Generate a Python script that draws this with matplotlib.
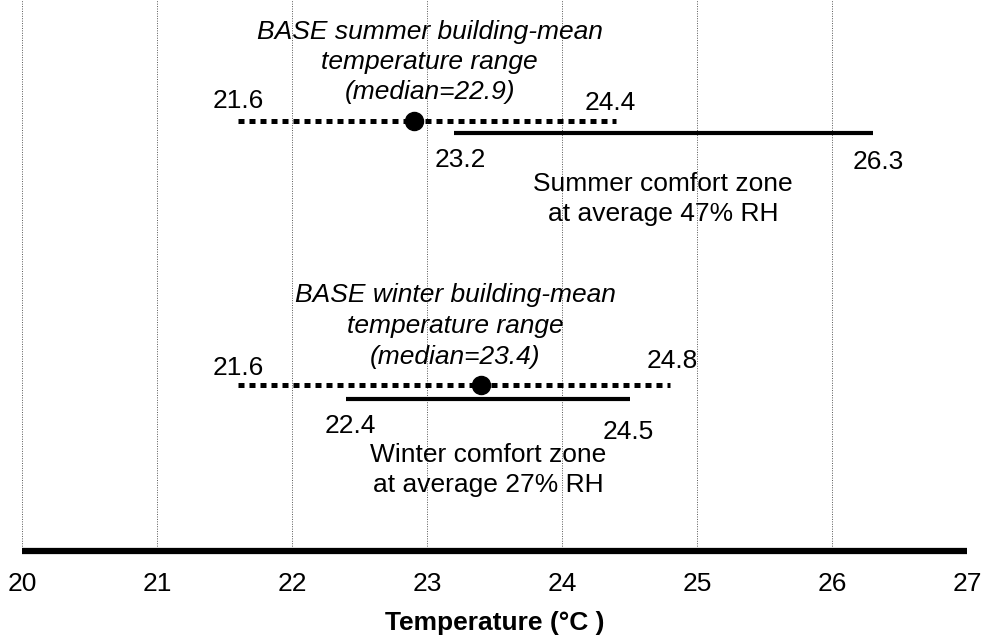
import matplotlib.pyplot as plt

plt.rcParams['font.family'] = ['Liberation Sans', 'DejaVu Sans']

# Data
summer_range = [21.6, 24.4]
summer_median = 22.9
summer_comfort = [23.2, 26.3]
summer_rh = 47

winter_range = [21.6, 24.8]
winter_median = 23.4
winter_comfort = [22.4, 24.5]
winter_rh = 27

x_ticks = [20, 21, 22, 23, 24, 25, 26, 27]

fig = plt.figure(figsize=(9.84, 6.41), dpi=100)
# axes spans from top of figure down to the axis line (pixel rows 0..551)
ax = fig.add_axes([22 / 984, (641 - 551) / 641, (967 - 22) / 984, 551 / 641])
ax.set_xlim(20, 27)
ax.set_ylim(551, 0)   # y in pixel rows from top

# vertical dotted grid
for t in x_ticks:
    ax.axvline(t, color='#555555', lw=0.7, ls=(0, (1, 1.5)), zorder=0)

dot_style = dict(color='black', lw=3.6, ls=(0, (1.2, 1.0)), dash_capstyle='butt')

# Summer
y_s_range, y_s_comf = 121, 133
ax.plot(summer_range, [y_s_range] * 2, **dot_style)
ax.plot([summer_median], [y_s_range], 'o', color='black', ms=13)
ax.plot(summer_comfort, [y_s_comf] * 2, color='black', lw=3, solid_capstyle='butt')

# Winter
y_w_range, y_w_comf = 385, 399
ax.plot(winter_range, [y_w_range] * 2, **dot_style)
ax.plot([winter_median], [y_w_range], 'o', color='black', ms=13)
ax.plot(winter_comfort, [y_w_comf] * 2, color='black', lw=3, solid_capstyle='butt')

fs = 19
ls = 1.35


def stacked(x, ys, lines, **kw):
    # one text per line so the boxes stay tight
    for y, s in zip(ys, lines):
        ax.text(x, y, s, ha='center', va='center', fontsize=fs, **kw)


# summer annotations
stacked(23.02, [32, 62, 92],
        ["BASE summer building-mean", "temperature range", f"(median={summer_median})"],
        style='italic')
ax.text(summer_range[0], 101, f"{summer_range[0]:.1f}", ha='center', va='center', fontsize=fs)
ax.text(summer_range[1] - 0.04, 103, f"{summer_range[1]:.1f}", ha='center', va='center', fontsize=fs)
ax.text(summer_comfort[0] + 0.05, 160, f"{summer_comfort[0]:.1f}", ha='center', va='center', fontsize=fs)
ax.text(summer_comfort[1] + 0.04, 162, f"{summer_comfort[1]:.1f}", ha='center', va='center', fontsize=fs)
ax.text(24.75, 199, f"Summer comfort zone\nat average {summer_rh}% RH",
        ha='center', va='center', fontsize=fs, linespacing=ls)

# winter annotations
stacked(23.21, [295, 326, 357],
        ["BASE winter building-mean", "temperature range", f"(median={winter_median})"],
        style='italic')
ax.text(winter_range[0], 368, f"{winter_range[0]:.1f}", ha='center', va='center', fontsize=fs)
ax.text(winter_range[1] + 0.02, 361, f"{winter_range[1]:.1f}", ha='center', va='center', fontsize=fs)
ax.text(winter_comfort[0] + 0.03, 426, f"{winter_comfort[0]:.1f}", ha='center', va='center', fontsize=fs)
ax.text(winter_comfort[1] - 0.01, 432, f"{winter_comfort[1]:.1f}", ha='center', va='center', fontsize=fs)
ax.text(23.455, 470, f"Winter comfort zone\nat average {winter_rh}% RH",
        ha='center', va='center', fontsize=fs, linespacing=ls)

# axes styling
for s in ['top', 'left', 'right']:
    ax.spines[s].set_visible(False)
ax.spines['bottom'].set_linewidth(4.5)
ax.spines['bottom'].set_capstyle('butt')
ax.set_yticks([])
ax.set_xticks(x_ticks)
ax.set_xticklabels([str(t) for t in x_ticks], fontsize=fs)
ax.tick_params(axis='x', length=0, pad=15)
ax.set_xlabel("Temperature (°C )", fontsize=fs, fontweight='bold', labelpad=11)

fig.savefig('out.png', dpi=100)
